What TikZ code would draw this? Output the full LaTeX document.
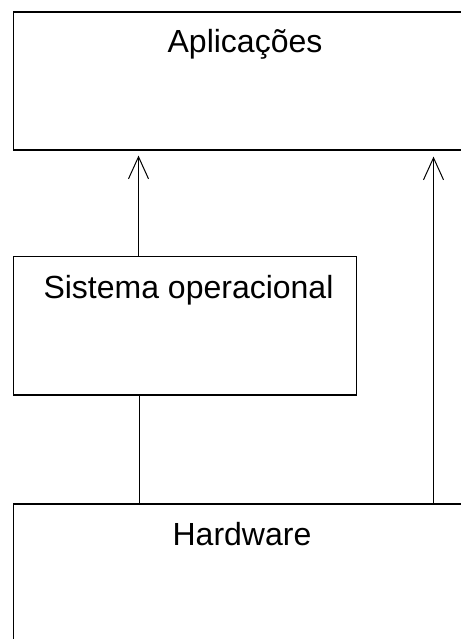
\documentclass[tikz,border=0pt]{standalone}
\usepackage{fontspec}
\setmainfont{Liberation Sans}
\usepackage{tikz}
\usetikzlibrary{arrows.meta}
\usetikzlibrary{positioning}
\tikzstyle{layer} = [draw,rectangle,line width=1.2pt,inner sep=0pt]
\tikzstyle{caption} = [inner sep=0pt,anchor=base,font=\fontsize{32}{38}\selectfont]

\begin{document}
\begin{tikzpicture}[-{Straight Barb[length=22pt,width=20pt,line width=1pt]},x=1pt,y=1pt,line width=1pt]
\useasboundingbox (0,0) rectangle (460,-639);

\node[layer, minimum width=456.5pt, minimum height=138pt] (apl) at (241.75,-81) {};
\node[layer, minimum width=343.2pt, minimum height=138.3pt] (so) at (185.1,-325.85) {};
\node[layer, minimum width=456.5pt, minimum height=146pt] (hw) at (241.75,-577) {};

\node[caption] (apltxt) at (245,-53) {Aplicações};
\node[caption] (sotxt) at (188.5,-298) {Sistema operacional};
\node[caption] (hwtxt) at (242,-545) {Hardware};

\path
	([xshift=-46.6pt]so.north) edge[shorten >=5pt] ([xshift=-46.6pt]so.north |- apl.south)
	([xshift=191.75pt]hw.north) edge[shorten >=6pt] ([xshift=191.75pt]hw.north |- apl.south);

\path
	([xshift=-46.1pt]so.south) edge[-] ([xshift=-46.1pt]so.south |- hw.north);

\end{tikzpicture}
\end{document}
